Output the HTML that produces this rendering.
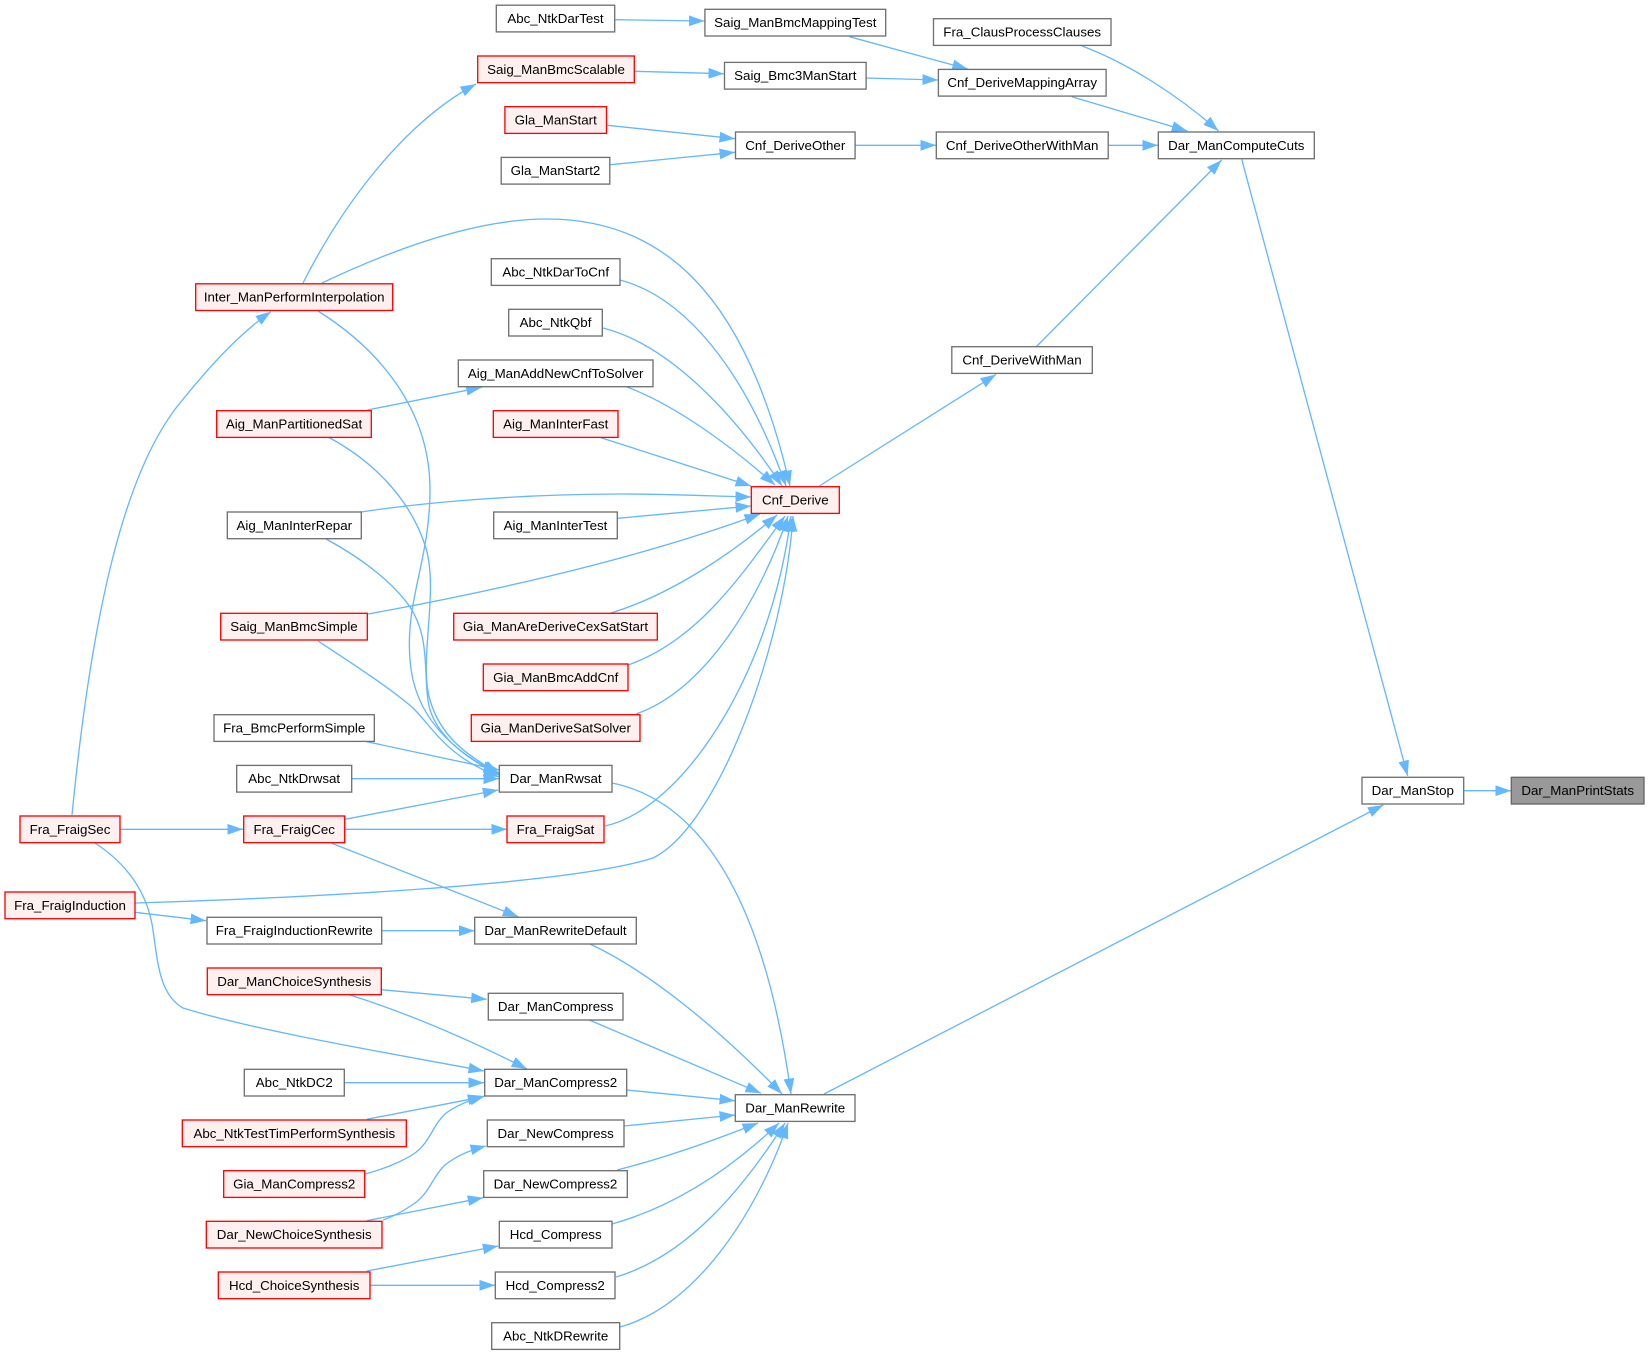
<!DOCTYPE html>
<html><head><meta charset="utf-8"><title>Dar_ManPrintStats</title>
<style>
html,body{margin:0;padding:0;background:#fff}
svg{display:block}
text{font-family:"Liberation Sans",Arial,sans-serif;font-size:13.33px;text-anchor:middle;fill:#000}
.n rect{fill:#fff;stroke:#707070;stroke-width:1.33}
.r rect{fill:#fff0f0;stroke:#f00;stroke-width:1.33}
.s rect{fill:#999;stroke:#666;stroke-width:1.33}
#e path{fill:none;stroke:#63b8ff;stroke-width:1.33;marker-end:url(#a)}
</style></head><body>
<svg xmlns="http://www.w3.org/2000/svg" width="1649" height="1355" viewBox="0 0 1649 1355">
<defs><marker id="a" markerUnits="userSpaceOnUse" markerWidth="17" markerHeight="12" refX="15.5" refY="5.4" orient="auto"><path d="M0,0L15.5,5.4L0,10.8z" fill="#63b8ff"/></marker></defs>
<g id="e">
<path d="M615.5,19.7L704.5,21"/>
<path d="M849.4,36.7L967.8,69"/>
<path d="M635,71.3L724,73.7"/>
<path d="M866,78L938,80"/>
<path d="M1082,46C1130,64 1180,97 1218.5,131"/>
<path d="M1071.8,96.7L1187.3,131"/>
<path d="M607.3,125.3L735,138.7"/>
<path d="M610.6,164.7L735,152.3"/>
<path d="M855.5,145.3L936,145.3"/>
<path d="M1108.5,145.3L1158,145.3"/>
<path d="M1036,347L1221.7,160"/>
<path d="M1241.7,159.3L1407.7,776"/>
<path d="M819.3,486L996,374.5"/>
<path d="M1464.3,790.7L1511,790.7"/>
<path d="M824,1094L1383.3,805"/>
<path d="M322,283C400,246 480,219 547,219C660,219 745,290 790,486"/>
<path d="M620,280C685,297 745,370 786,486"/>
<path d="M603,328C670,345 735,415 782,486"/>
<path d="M627,387C675,405 730,445 775,485"/>
<path d="M601,437.7L751,486"/>
<path d="M361,512C440,500 540,494 620,494C670,494 710,496 751,497"/>
<path d="M617.7,518.3L751,506"/>
<path d="M368,614C500,590 640,558 760,514"/>
<path d="M611,613C670,595 730,555 777,515"/>
<path d="M628,665C700,640 745,570 785,516"/>
<path d="M636,714C705,690 760,600 788,516"/>
<path d="M605,826C680,810 770,680 791,516"/>
<path d="M135,903C300,898 570,885 653,858C720,825 785,640 793,516"/>
<path d="M72,815C92,610 125,470 180,403C205,372 235,337 271,311.5"/>
<path d="M303,283C340,210 400,125 476,84"/>
<path d="M318,311C380,350 430,410 430,490C430,560 405,600 410,660C414,715 450,750 499,774"/>
<path d="M367.3,410L481.7,387.3"/>
<path d="M328,437C375,462 410,500 425,545C440,590 418,660 430,700C440,735 465,755 499,773"/>
<path d="M326,539C365,560 395,585 410,607C432,640 422,680 430,710C440,740 470,760 499,775"/>
<path d="M318,641C350,662 390,688 413,708C435,730 445,755 499,777"/>
<path d="M366.7,741.7L499.3,770"/>
<path d="M352,778.7L499,778.7"/>
<path d="M345,819.3L498.3,790"/>
<path d="M120.3,829.3L243,829.3"/>
<path d="M345,829.3L507,829.3"/>
<path d="M331.7,843.3L518.3,916.7"/>
<path d="M135,912.3L206,920.7"/>
<path d="M382,930.7L474.5,930.7"/>
<path d="M590,944C650,972 720,1030 782,1094"/>
<path d="M612,783C720,805 770,940 791,1094"/>
<path d="M381.3,989.7L486.7,999.3"/>
<path d="M350,995C410,1014 470,1040 527,1069"/>
<path d="M95,843C130,866 148,895 153,930C158,965 160,995 183,1008C260,1032 400,1055 484,1071"/>
<path d="M344.7,1082.7L484,1082.7"/>
<path d="M366.7,1119.3L483.3,1096.7"/>
<path d="M365,1174C385,1169 405,1160 415,1153C430,1142 433,1125 445,1114C455,1106 470,1100 485,1096"/>
<path d="M383,1220C395,1216 405,1210 415,1203C430,1192 433,1176 445,1165C455,1157 470,1150 486,1146"/>
<path d="M366.7,1220.7L483.3,1197.7"/>
<path d="M366.7,1271L498.3,1246"/>
<path d="M370.3,1285.3L495,1285.3"/>
<path d="M589.3,1020L761,1093.3"/>
<path d="M626.7,1090L735,1100.7"/>
<path d="M624,1126L735,1115"/>
<path d="M617,1170C665,1158 715,1140 758,1123"/>
<path d="M612,1224C680,1205 735,1165 779,1123"/>
<path d="M616,1277C690,1255 745,1185 785,1123"/>
<path d="M620,1327C700,1305 760,1205 788,1123"/>
</g>
<g class="n"><rect x="496.3" y="5.2" width="118.4" height="26.7"/><text x="555.5" y="23">Abc_NtkDarTest</text></g>
<g class="n"><rect x="704.9" y="9.3" width="180.8" height="26.7"/><text x="795.3" y="27">Saig_ManBmcMappingTest</text></g>
<g class="n"><rect x="933.5" y="18.7" width="177.5" height="26.7"/><text x="1022.2" y="36.5">Fra_ClausProcessClauses</text></g>
<g class="r"><rect x="477.7" y="56" width="156.6" height="26.7"/><text x="556" y="74">Saig_ManBmcScalable</text></g>
<g class="n"><rect x="724.5" y="62.4" width="141.6" height="26.7"/><text x="795.3" y="80.2">Saig_Bmc3ManStart</text></g>
<g class="n"><rect x="938.4" y="69.4" width="167.7" height="26.7"/><text x="1022.2" y="87.2">Cnf_DeriveMappingArray</text></g>
<g class="r"><rect x="504.9" y="106.7" width="101.6" height="26.7"/><text x="555.7" y="124.5">Gla_ManStart</text></g>
<g class="n"><rect x="735.5" y="132" width="119.6" height="26.7"/><text x="795.3" y="149.8">Cnf_DeriveOther</text></g>
<g class="n"><rect x="936.3" y="132" width="171.9" height="26.7"/><text x="1022.2" y="149.8">Cnf_DeriveOtherWithMan</text></g>
<g class="n"><rect x="1158.3" y="132" width="156" height="26.7"/><text x="1236.3" y="149.8">Dar_ManComputeCuts</text></g>
<g class="n"><rect x="501.2" y="157.4" width="108.6" height="26.7"/><text x="555.5" y="175.2">Gla_ManStart2</text></g>
<g class="r"><rect x="195.7" y="283.8" width="197" height="26.7"/><text x="294.2" y="301.6">Inter_ManPerformInterpolation</text></g>
<g class="n"><rect x="491.3" y="258.7" width="128.7" height="26.7"/><text x="555.7" y="276.5">Abc_NtkDarToCnf</text></g>
<g class="n"><rect x="508.7" y="309.3" width="93.6" height="26.7"/><text x="555.5" y="327.1">Abc_NtkQbf</text></g>
<g class="n"><rect x="458.3" y="360" width="194.7" height="26.7"/><text x="555.7" y="377.8">Aig_ManAddNewCnfToSolver</text></g>
<g class="r"><rect x="216.7" y="410.7" width="154.6" height="26.7"/><text x="294" y="428.5">Aig_ManPartitionedSat</text></g>
<g class="r"><rect x="493.3" y="410.7" width="124.7" height="26.7"/><text x="555.7" y="428.5">Aig_ManInterFast</text></g>
<g class="n"><rect x="951.8" y="346.7" width="140.5" height="26.7"/><text x="1022" y="364.5">Cnf_DeriveWithMan</text></g>
<g class="n"><rect x="227.3" y="512" width="134" height="26.7"/><text x="294.3" y="529.8">Aig_ManInterRepar</text></g>
<g class="n"><rect x="493.7" y="512" width="123.6" height="26.7"/><text x="555.5" y="529.8">Aig_ManInterTest</text></g>
<g class="r"><rect x="751.3" y="486.7" width="88" height="26.7"/><text x="795.3" y="504.5">Cnf_Derive</text></g>
<g class="r"><rect x="220.7" y="613.3" width="146.6" height="26.7"/><text x="294" y="631.1">Saig_ManBmcSimple</text></g>
<g class="r"><rect x="453.7" y="613.3" width="203.6" height="26.7"/><text x="555.5" y="631.1">Gia_ManAreDeriveCexSatStart</text></g>
<g class="r"><rect x="483.3" y="664" width="144.7" height="26.7"/><text x="555.7" y="681.8">Gia_ManBmcAddCnf</text></g>
<g class="r"><rect x="471.3" y="714.7" width="168.7" height="26.7"/><text x="555.7" y="732.5">Gia_ManDeriveSatSolver</text></g>
<g class="n"><rect x="214" y="714.7" width="160.3" height="26.7"/><text x="294.2" y="732.5">Fra_BmcPerformSimple</text></g>
<g class="n"><rect x="236.7" y="765.4" width="115" height="26.7"/><text x="294.2" y="783.2">Abc_NtkDrwsat</text></g>
<g class="n"><rect x="499.3" y="765.4" width="112.7" height="26.7"/><text x="555.7" y="783.2">Dar_ManRwsat</text></g>
<g class="r"><rect x="20" y="816" width="100" height="26.7"/><text x="70" y="833.8">Fra_FraigSec</text></g>
<g class="r"><rect x="243.7" y="816" width="101" height="26.7"/><text x="294.2" y="833.8">Fra_FraigCec</text></g>
<g class="r"><rect x="507" y="816" width="97" height="26.7"/><text x="555.5" y="833.8">Fra_FraigSat</text></g>
<g class="r"><rect x="5" y="892" width="130" height="26.7"/><text x="70" y="909.8">Fra_FraigInduction</text></g>
<g class="n"><rect x="207" y="917.3" width="174.7" height="26.7"/><text x="294.3" y="935.1">Fra_FraigInductionRewrite</text></g>
<g class="n"><rect x="474.7" y="917.3" width="161.6" height="26.7"/><text x="555.5" y="935.1">Dar_ManRewriteDefault</text></g>
<g class="r"><rect x="207.3" y="968" width="174" height="26.7"/><text x="294.3" y="985.8">Dar_ManChoiceSynthesis</text></g>
<g class="n"><rect x="488.3" y="993.3" width="134.7" height="26.7"/><text x="555.7" y="1011.1">Dar_ManCompress</text></g>
<g class="n"><rect x="244.3" y="1069.3" width="100" height="26.7"/><text x="294.3" y="1087.1">Abc_NtkDC2</text></g>
<g class="n"><rect x="484.7" y="1069.3" width="142" height="26.7"/><text x="555.7" y="1087.1">Dar_ManCompress2</text></g>
<g class="r"><rect x="182.3" y="1120" width="224" height="26.7"/><text x="294.3" y="1137.8">Abc_NtkTestTimPerformSynthesis</text></g>
<g class="n"><rect x="487.3" y="1120" width="136.7" height="26.7"/><text x="555.7" y="1137.8">Dar_NewCompress</text></g>
<g class="n"><rect x="735.3" y="1094.7" width="119.7" height="26.7"/><text x="795.2" y="1112.5">Dar_ManRewrite</text></g>
<g class="r"><rect x="223.7" y="1170.7" width="141" height="26.7"/><text x="294.2" y="1188.5">Gia_ManCompress2</text></g>
<g class="n"><rect x="483.7" y="1170.7" width="143.6" height="26.7"/><text x="555.5" y="1188.5">Dar_NewCompress2</text></g>
<g class="r"><rect x="206.3" y="1221.3" width="175.7" height="26.7"/><text x="294.2" y="1239.1">Dar_NewChoiceSynthesis</text></g>
<g class="n"><rect x="499.3" y="1221.3" width="112.7" height="26.7"/><text x="555.7" y="1239.1">Hcd_Compress</text></g>
<g class="r"><rect x="218.3" y="1272" width="151.7" height="26.7"/><text x="294.2" y="1289.8">Hcd_ChoiceSynthesis</text></g>
<g class="n"><rect x="495.3" y="1272" width="119.7" height="26.7"/><text x="555.2" y="1289.8">Hcd_Compress2</text></g>
<g class="n"><rect x="491.7" y="1322.7" width="128" height="26.7"/><text x="555.7" y="1340.5">Abc_NtkDRewrite</text></g>
<g class="n"><rect x="1362" y="777.3" width="101.7" height="26.7"/><text x="1412.8" y="795.1">Dar_ManStop</text></g>
<g class="s"><rect x="1511.3" y="777.3" width="132.7" height="26.7"/><text x="1577.7" y="795.1">Dar_ManPrintStats</text></g>
</svg>
</body></html>
